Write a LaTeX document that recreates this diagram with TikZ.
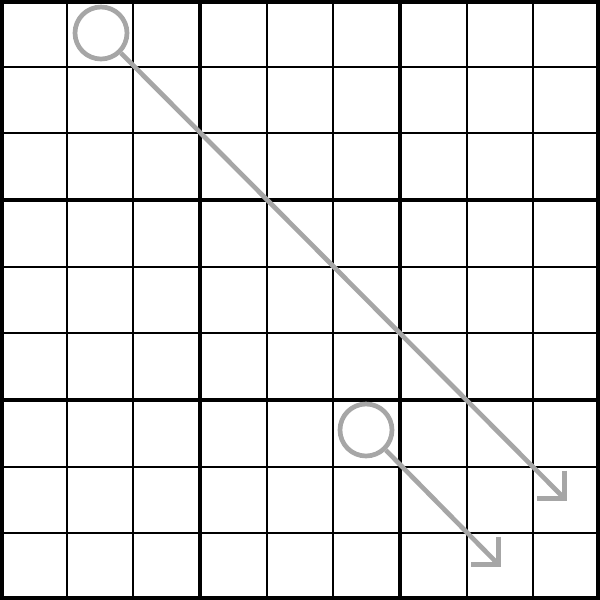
\documentclass[tikz,border=0pt]{standalone}
\begin{document}
\begin{tikzpicture}[x=0.015cm,y=-0.015cm,
  thin grid/.style={line width=0.75pt,black},
  thick grid/.style={line width=1.7pt,black},
  magnifier/.style={circle,draw=gray!70,line width=2pt,minimum size=52*0.015cm,inner sep=0pt},
  pointer/.style={draw=gray!70,line width=2pt},
  barb/.style={draw=gray!70,line width=2pt,miter limit=10}]
\useasboundingbox (0,0) rectangle (600,600);
\fill[white] (0,0) rectangle (600,600);
\foreach \i in {1,2,4,5,7,8} {
  \draw[thin grid] ({\i*600/9},0) -- ({\i*600/9},600);
  \draw[thin grid] (0,{\i*600/9}) -- (600,{\i*600/9});
}
\foreach \i in {3,6} {
  \draw[thick grid] ({\i*600/9},0) -- ({\i*600/9},600);
  \draw[thick grid] (0,{\i*600/9}) -- (600,{\i*600/9});
}
\draw[line width=3.4pt] (0,0) rectangle (600,600);
\node[magnifier] (c1) at (101,33) {};
\node[magnifier] (c2) at (366,430) {};
\coordinate (t1) at (564.5,498.5);
\coordinate (t2) at (498.5,564.5);
\draw[pointer] (c1) -- (t1);
\draw[pointer] (c2) -- (t2);
\draw[barb] ([yshift=28*0.015cm]t1) -- (t1) -- ([xshift=-28*0.015cm]t1);
\draw[barb] ([yshift=28*0.015cm]t2) -- (t2) -- ([xshift=-28*0.015cm]t2);
\end{tikzpicture}
\end{document}
